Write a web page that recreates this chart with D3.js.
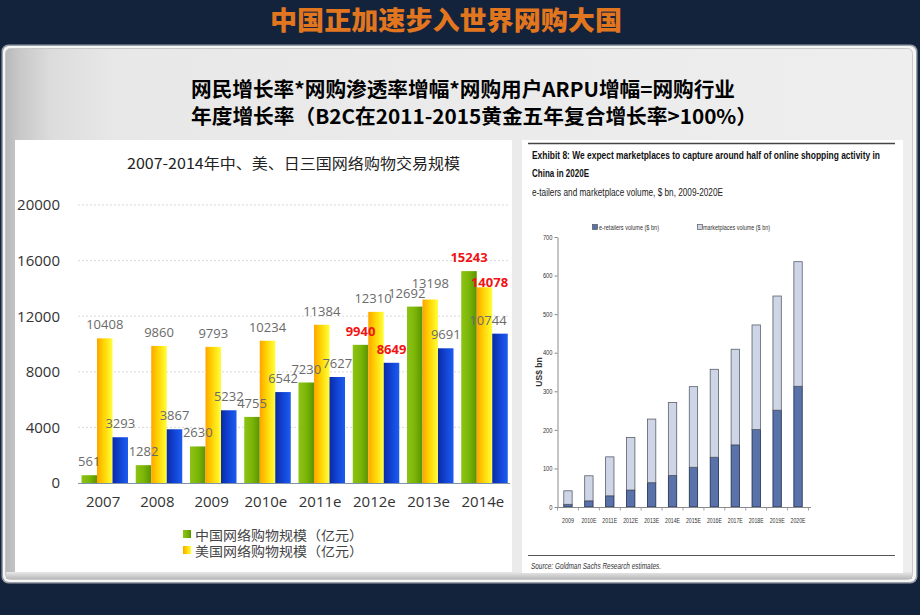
<!DOCTYPE html>
<html>
<head>
<meta charset="utf-8">
<script src="https://cdn.jsdelivr.net/npm/d3@7"></script>
<style>
  html, body { margin: 0; padding: 0; background: #13233b; }
  svg { display: block; }
</style>
</head>
<body>
<svg id="chart" width="920" height="615"></svg>
<script>
// ---------- Data ----------
const years = ["2007", "2008", "2009", "2010e", "2011e", "2012e", "2013e", "2014e"];
const chinaValues = [561, 1282, 2630, 4755, 7230, 9940, 12692, 15243];
const usValues = [10408, 9860, 9793, 10234, 11384, 12310, 13198, 14078];
const japanValues = [3293, 3867, 5232, 6542, 7627, 8649, 9691, 10744];
const leftTicks = [0, 4000, 8000, 12000, 16000, 20000];
const legendLabels = ["中国网络购物规模（亿元）", "美国网络购物规模（亿元）"];

const yearsR = ["2009", "2010E", "2011E", "2012E", "2013E", "2014E", "2015E", "2016E", "2017E", "2018E", "2019E", "2020E"];
const eRetailers = [7, 16, 29, 44, 63, 82, 103, 129, 161, 201, 251, 313];
const marketplaces = [35, 65, 101, 136, 165, 189, 209, 228, 248, 271, 296, 323];
const rightTicks = [0, 100, 200, 300, 400, 500, 600, 700];

const svg = d3.select("#chart");
const defs = svg.append("defs");

// ---------- Background ----------
svg.append("rect").attr("x", 0).attr("y", 0).attr("width", 920).attr("height", 615).attr("fill", "#13233b");

const pg = defs.append("linearGradient").attr("id", "panelGrad").attr("x1", 0).attr("x2", 1).attr("y1", 0).attr("y2", 0);
[[0, "#b8b8b8"], [0.015, "#c8c8c8"], [0.05, "#dcdcdc"], [0.12, "#e8e8e8"], [1, "#eeeeee"]]
  .forEach(([o, c]) => pg.append("stop").attr("offset", o).attr("stop-color", c));

svg.append("rect").attr("x", 1.5).attr("y", 44.5).attr("width", 916).attr("height", 539).attr("rx", 7)
  .attr("fill", "#9aa0a8");
svg.append("rect").attr("x", 3).attr("y", 46).attr("width", 913).attr("height", 536).attr("rx", 6)
  .attr("fill", "#f6f6f6");
svg.append("rect").attr("x", 5.5).attr("y", 48.5).attr("width", 907).attr("height", 531).attr("rx", 5)
  .attr("fill", "url(#panelGrad)").attr("stroke", "#c8c8c8").attr("stroke-width", 1);

const bg = defs.append("linearGradient").attr("id", "bottomGrad").attr("x1", 0).attr("x2", 0).attr("y1", 0).attr("y2", 1);
bg.append("stop").attr("offset", 0).attr("stop-color", "#e8e8e8");
bg.append("stop").attr("offset", 1).attr("stop-color", "#b9b9b9");
svg.append("rect").attr("x", 6).attr("y", 572).attr("width", 906).attr("height", 7).attr("fill", "url(#bottomGrad)");

// ---------- Header texts ----------
svg.append("text").attr("x", 270).attr("y", 30)
  .attr("textLength", 352).attr("lengthAdjust", "spacingAndGlyphs")
  .attr("font-family", "'Noto Sans CJK SC', sans-serif").attr("font-weight", 900)
  .attr("font-size", 26).attr("fill", "#e2761f")
  .text("中国正加速步入世界网购大国");

svg.append("text").attr("x", 191).attr("y", 97)
  .attr("textLength", 544).attr("lengthAdjust", "spacingAndGlyphs")
  .attr("font-family", "'Noto Sans CJK SC', sans-serif").attr("font-weight", 700)
  .attr("font-size", 20).attr("fill", "#000")
  .text("网民增长率*网购渗透率增幅*网购用户ARPU增幅=网购行业");
svg.append("text").attr("x", 191).attr("y", 124)
  .attr("textLength", 566).attr("lengthAdjust", "spacingAndGlyphs")
  .attr("font-family", "'Noto Sans CJK SC', sans-serif").attr("font-weight", 700)
  .attr("font-size", 20).attr("fill", "#000")
  .text("年度增长率（B2C在2011-2015黄金五年复合增长率>100%）");

// ---------- Left chart ----------
svg.append("rect").attr("x", 15).attr("y", 140).attr("width", 497).attr("height", 432).attr("fill", "#ffffff");

svg.append("text").attr("x", 127).attr("y", 169)
  .attr("textLength", 333).attr("lengthAdjust", "spacingAndGlyphs")
  .attr("font-family", "'Noto Sans CJK SC', sans-serif").attr("font-size", 15).attr("fill", "#222")
  .text("2007-2014年中、美、日三国网络购物交易规模");

const series = [
  { key: "China", values: chinaValues, grad: "gGreen", stops: [[0, "#8cc414"], [0.5, "#7cb608"], [1, "#5a9400"]] },
  { key: "US", values: usValues, grad: "gYellow", stops: [[0, "#ffa400"], [0.4, "#ffd000"], [1, "#ffff3a"]] },
  { key: "Japan", values: japanValues, grad: "gBlue", stops: [[0, "#0a2aa6"], [0.5, "#1244d4"], [1, "#1c5cf0"]] }
];
series.forEach(s => {
  const g = defs.append("linearGradient").attr("id", s.grad).attr("x1", 0).attr("x2", 1).attr("y1", 0).attr("y2", 0);
  s.stops.forEach(([o, c]) => g.append("stop").attr("offset", o).attr("stop-color", c));
});

const x = d3.scaleBand().domain(years).range([76, 510]);
const xs = d3.scaleBand().domain(series.map(s => s.key)).range([5.5, 52]);
const y = d3.scaleLinear().domain([0, 20000]).range([483, 205]);

const left = svg.append("g");
left.selectAll("line.grid").data(leftTicks.filter(t => t > 0)).join("line")
  .attr("class", "grid")
  .attr("x1", 78).attr("x2", 510).attr("y1", d => y(d)).attr("y2", d => y(d))
  .attr("stroke", "#cfcfcf").attr("stroke-width", 0.8).attr("stroke-dasharray", "2,2");

const yAxisL = left.append("g").attr("transform", "translate(60,0)")
  .call(d3.axisLeft(y).tickValues(leftTicks).tickSize(0).tickPadding(0).tickFormat(d3.format("d")));
yAxisL.select(".domain").remove();
yAxisL.selectAll("text").attr("font-family", "'Open Sans', sans-serif").attr("font-size", 15).attr("fill", "#333");

const highlight = new Set(["China-5", "Japan-5", "China-7", "US-7"]);
const nudge = { "China-6": [-8, 0], "US-5": [-3, 0], "US-7": [5, 9], "Japan-7": [-12, 0], "US-6": [0, -3] };

series.forEach(s => {
  left.append("g").selectAll("rect").data(s.values).join("rect")
    .attr("x", (d, i) => x(years[i]) + xs(s.key))
    .attr("width", xs.bandwidth())
    .attr("y", d => y(d))
    .attr("height", d => y(0) - y(d))
    .attr("fill", `url(#${s.grad})`);
});

const baseline = left.append("g").attr("transform", `translate(0,${y(0)})`)
  .call(d3.axisBottom(x).tickSize(0).tickPadding(13));
baseline.select(".domain").attr("stroke", "#7f93aa").attr("stroke-width", 1.2)
  .attr("d", "M78,0.5H510");
baseline.selectAll("text").attr("font-family", "'Open Sans', sans-serif").attr("font-size", 15).attr("fill", "#333");

series.forEach(s => {
  left.append("g").selectAll("text").data(s.values).join("text")
    .attr("x", (d, i) => x(years[i]) + xs(s.key) + xs.bandwidth() / 2 + (nudge[s.key + "-" + i] || [0, 0])[0])
    .attr("y", (d, i) => y(d) - 9 + (nudge[s.key + "-" + i] || [0, 0])[1])
    .attr("text-anchor", "middle")
    .attr("font-family", "'Open Sans', sans-serif")
    .attr("font-size", 13)
    .attr("font-weight", (d, i) => highlight.has(s.key + "-" + i) ? 700 : 400)
    .attr("fill", (d, i) => highlight.has(s.key + "-" + i) ? "#f01414" : "#6a6a6a")
    .text(d => d);
});

const leg = left.append("g");
legendLabels.forEach((lab, i) => {
  leg.append("rect").attr("x", 183).attr("y", 530 + i * 16).attr("width", 8).attr("height", 8)
    .attr("fill", `url(#${series[i].grad})`);
  leg.append("text").attr("x", 195).attr("y", 539.5 + i * 16)
    .attr("textLength", 168).attr("lengthAdjust", "spacingAndGlyphs")
    .attr("font-family", "'Noto Sans CJK SC', sans-serif").attr("font-size", 13).attr("fill", "#444")
    .text(lab);
});

// ---------- Right chart ----------
svg.append("rect").attr("x", 522).attr("y", 140).attr("width", 381).attr("height", 433).attr("fill", "#ffffff");
svg.append("line").attr("x1", 528).attr("x2", 895).attr("y1", 143.5).attr("y2", 143.5).attr("stroke", "#444").attr("stroke-width", 1.3);

const narrow = "'Liberation Sans Narrow', 'Liberation Sans', Arial, sans-serif";
svg.append("text").attr("x", 532).attr("y", 159).attr("textLength", 348).attr("lengthAdjust", "spacingAndGlyphs")
  .attr("font-family", narrow).attr("font-weight", 700).attr("font-size", 11.5).attr("fill", "#111")
  .text("Exhibit 8:  We expect marketplaces to capture around half of online shopping activity in");
svg.append("text").attr("x", 532).attr("y", 177).attr("textLength", 57).attr("lengthAdjust", "spacingAndGlyphs")
  .attr("font-family", narrow).attr("font-weight", 700).attr("font-size", 11.5).attr("fill", "#111")
  .text("China in 2020E");
svg.append("text").attr("x", 532).attr("y", 196).attr("textLength", 191).attr("lengthAdjust", "spacingAndGlyphs")
  .attr("font-family", narrow).attr("font-size", 11).attr("fill", "#222")
  .text("e-tailers and marketplace volume, $ bn, 2009-2020E");

const xr = d3.scaleBand().domain(yearsR).range([557.5, 808.5]).paddingInner(0.6).paddingOuter(0.3);
const yr = d3.scaleLinear().domain([0, 700]).range([507, 237]);
const right = svg.append("g");

const rows = yearsR.map((yy, i) => ({ year: yy, e: eRetailers[i], m: marketplaces[i] }));
const stack = d3.stack().keys(["e", "m"])(rows);
const rColors = { e: "#5a72aa", m: "#cdd5e7" };

stack.forEach(layer => {
  right.append("g").selectAll("rect").data(layer).join("rect")
    .attr("x", d => xr(d.data.year))
    .attr("width", xr.bandwidth())
    .attr("y", d => yr(d[1]))
    .attr("height", d => yr(d[0]) - yr(d[1]))
    .attr("fill", rColors[layer.key])
    .attr("stroke", layer.key === "e" ? "#1e2a48" : "#5a5f6a")
    .attr("stroke-width", 0.8);
});

const yAxisR = right.append("g").attr("transform", "translate(557.5,0)")
  .call(d3.axisLeft(yr).tickValues(rightTicks).tickSize(3).tickSizeOuter(0).tickPadding(2));
yAxisR.select(".domain").attr("stroke", "#8a8a8a");
yAxisR.selectAll(".tick line").attr("stroke", "#8a8a8a");
yAxisR.selectAll("text").attr("font-family", narrow).attr("font-size", 7).attr("fill", "#333")
  .attr("textLength", d => String(d).length * 3.2).attr("lengthAdjust", "spacingAndGlyphs");

const xAxisR = right.append("g").attr("transform", "translate(0,507)")
  .call(d3.axisBottom(xr).tickSize(0).tickPadding(11).tickSizeOuter(0));
xAxisR.select(".domain").attr("stroke", "#8a8a8a").attr("d", "M557.5,0.5H811");
xAxisR.selectAll("text").attr("font-family", narrow).attr("font-size", 7).attr("fill", "#333")
  .attr("textLength", d => d.length * 3).attr("lengthAdjust", "spacingAndGlyphs");
right.append("g").selectAll("line").data(d3.range(yearsR.length + 1)).join("line")
  .attr("x1", i => 557.5 + i * xr.step()).attr("x2", i => 557.5 + i * xr.step())
  .attr("y1", 507).attr("y2", 510.5).attr("stroke", "#8a8a8a").attr("stroke-width", 0.8);

svg.append("text").attr("transform", "translate(542,372) rotate(-90)").attr("text-anchor", "middle")
  .attr("font-family", "'Liberation Sans', Arial, sans-serif").attr("font-weight", 700).attr("font-size", 8.5).attr("fill", "#333")
  .text("US$ bn");

const legR = [["e", "e-retailers volume ($ bn)", 592.5, 599, 60], ["m", "marketplaces volume ($ bn)", 697.5, 703, 67]];
legR.forEach(([k, lab, sx, tx, tl]) => {
  svg.append("rect").attr("x", sx).attr("y", 224.5).attr("width", 5).attr("height", 5)
    .attr("fill", rColors[k]).attr("stroke", "#444").attr("stroke-width", 0.6);
  svg.append("text").attr("x", tx).attr("y", 229.5)
    .attr("textLength", tl).attr("lengthAdjust", "spacingAndGlyphs")
    .attr("font-family", narrow).attr("font-size", 7).attr("fill", "#333")
    .text(lab);
});

svg.append("line").attr("x1", 528).attr("x2", 895).attr("y1", 555.5).attr("y2", 555.5).attr("stroke", "#555").attr("stroke-width", 1);
svg.append("text").attr("x", 531).attr("y", 569).attr("textLength", 130).attr("lengthAdjust", "spacingAndGlyphs")
  .attr("font-family", narrow).attr("font-style", "italic").attr("font-size", 8.5).attr("fill", "#333")
  .text("Source: Goldman Sachs Research estimates.");
</script>
</body>
</html>
